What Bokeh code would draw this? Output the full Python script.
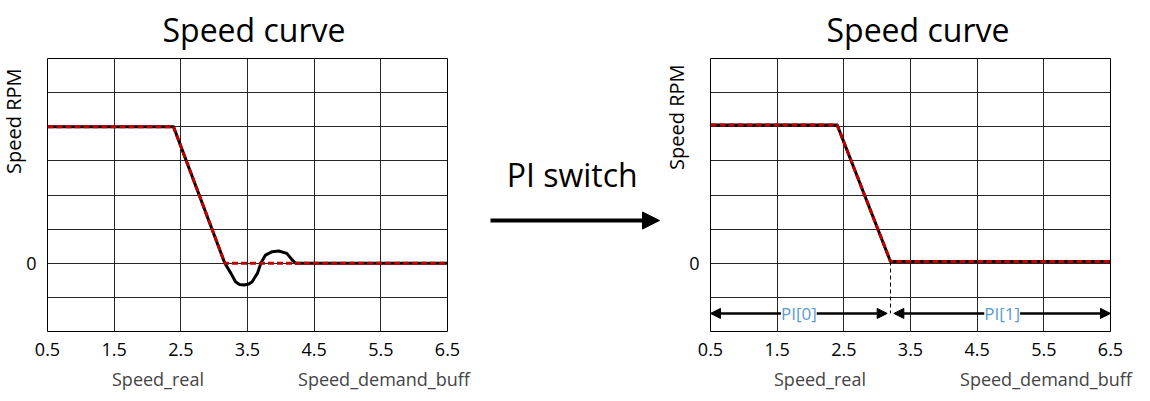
from bokeh.plotting import figure
from bokeh.layouts import row, column
from bokeh.models import (Range1d, FixedTicker, Label, Arrow, NormalHead, Legend,
                          LegendItem, Title)
from bokeh.embed import file_html
from bokeh.resources import INLINE

# ---------------- data ----------------
x_ticks = [0.5, 1.5, 2.5, 3.5, 4.5, 5.5, 6.5]
y_grid_ticks = [-2, -1, 0, 1, 2, 3, 4, 5, 6]
y_label_ticks = [0]

left_real_x = [0.5, 2.39, 3.16, 3.25, 3.32, 3.38, 3.45, 3.52, 3.57, 3.65, 3.70,
               3.77, 3.87, 3.97, 4.09, 4.17, 4.22, 6.5]
left_real_y = [4.0, 4.0, 0.0, -0.29, -0.54, -0.62, -0.64, -0.61, -0.54, -0.29, 0.0,
               0.24, 0.34, 0.36, 0.29, 0.10, 0.0, 0.0]
left_demand_x = [0.5, 2.39, 3.16, 6.5]
left_demand_y = [4.0, 4.0, 0.0, 0.0]

right_real_x = [0.5, 2.40, 3.20, 6.5]
right_real_y = [4.05, 4.05, 0.05, 0.05]
right_demand_x = [0.5, 2.40, 3.20, 6.5]
right_demand_y = [4.05, 4.05, 0.05, 0.05]

pi_level = -1.47
pi_labels = ["PI[0]", "PI[1]"]

title_text = "Speed curve"
ylabel_text = "Speed RPM"
series_names = ["Speed_real", "Speed_demand_buff"]
middle_text = "PI switch"

FONT = "Open Sans"
RED = "#C00000"
TOP, FRAME_H, BOTTOM = 58, 273, 30


def make_chart(real_x, real_y, dem_x, dem_y, border_left, border_right,
               title_offset, ylabel_offset):
    p = figure(frame_width=400, frame_height=FRAME_H,
               min_border_left=border_left, min_border_right=border_right,
               min_border_top=TOP, min_border_bottom=BOTTOM,
               x_range=Range1d(0.5, 6.5), y_range=Range1d(-2, 6),
               output_backend="svg", toolbar_location=None, title=None)
    p.outline_line_color = "black"
    p.outline_line_width = 1
    p.background_fill_color = "white"
    p.border_fill_color = "white"

    p.title = Title(text=title_text, align="left", offset=title_offset, standoff=12,
                    vertical_align="top",
                    text_font=FONT, text_font_size="32px",
                    text_font_style="normal", text_color="black")

    p.xaxis.ticker = FixedTicker(ticks=x_ticks)
    p.yaxis.ticker = FixedTicker(ticks=y_label_ticks)
    p.xgrid.ticker = FixedTicker(ticks=x_ticks)
    p.ygrid.ticker = FixedTicker(ticks=y_grid_ticks)
    for g in (p.xgrid, p.ygrid):
        g.grid_line_color = "#262626"
        g.grid_line_width = 1
        g.grid_line_alpha = 1
    for ax in (p.xaxis, p.yaxis):
        ax.axis_line_color = None
        ax.major_tick_line_color = None
        ax.minor_tick_line_color = None
        ax.major_tick_out = 0
        ax.major_tick_in = 0
        ax.major_label_text_font = FONT
        ax.major_label_text_font_size = "18px"
        ax.major_label_text_color = "black"
    p.xaxis.major_label_standoff = 11
    p.yaxis.major_label_standoff = 11

    # y-axis title near the top of the left side
    p.add_layout(Title(text=ylabel_text, align="right", offset=ylabel_offset,
                       standoff=-6, text_font=FONT, text_font_size="20px",
                       text_font_style="normal", text_color="black"), "left")

    p.line(real_x, real_y, line_color="black", line_width=3, line_join="round")
    p.line(dem_x, dem_y, line_color=RED, line_width=3, line_dash="6 3")
    return p


left = make_chart(left_real_x, left_real_y, left_demand_x, left_demand_y,
                  47, 23, 115, 10)
right = make_chart(right_real_x, right_real_y, right_demand_x, right_demand_y,
                   50, 40, 116, 6)

# PI regions on the right chart
switch_x = right_demand_x[2]
switch_y = right_demand_y[2]
gap = 0.05
right.segment(x0=[switch_x], y0=[switch_y], x1=[switch_x], y1=[pi_level],
              line_color="black", line_width=1, line_dash="4 3")
segments = [(x_ticks[0], switch_x - gap), (switch_x + gap, x_ticks[-1])]
for (xs, xe), lab in zip(segments, pi_labels):
    right.add_layout(Arrow(x_start=xs, y_start=pi_level, x_end=xe, y_end=pi_level,
                           line_width=2.5, line_color="black",
                           start=NormalHead(size=10, fill_color="black", line_color="black"),
                           end=NormalHead(size=10, fill_color="black", line_color="black")))
    right.add_layout(Label(x=(xs + xe) / 2, y=pi_level, text=lab, text_font=FONT,
                           text_font_size="17px", text_align="center",
                           text_baseline="middle", text_color="#5B9BD5",
                           background_fill_color="white"))

# Middle panel: "PI switch" with arrow (pixel-like coordinates, y downward)
mid = figure(frame_width=190, frame_height=FRAME_H,
             min_border_left=0, min_border_right=0,
             min_border_top=TOP, min_border_bottom=BOTTOM,
             x_range=Range1d(470, 660), y_range=Range1d(TOP + FRAME_H, TOP),
             x_axis_type=None, y_axis_type=None, output_backend="svg",
             toolbar_location=None, title=None)
mid.outline_line_color = None
mid.grid.visible = False
mid.add_layout(Label(x=571.7, y=174, text=middle_text, text_font=FONT,
                     text_font_size="32px", text_align="center",
                     text_baseline="alphabetic", text_color="black"))
mid.add_layout(Arrow(x_start=490, y_start=220, x_end=659, y_end=220,
                     line_width=4, line_color="black",
                     end=NormalHead(size=17, fill_color="black", line_color="black")))

# Legend strip below both charts
leg = figure(frame_width=1150, frame_height=30, min_border_left=0, min_border_right=0,
             min_border_top=0, min_border_bottom=0,
             x_range=Range1d(0, 1150), y_range=Range1d(0, 30),
             x_axis_type=None, y_axis_type=None, output_backend="svg",
             toolbar_location=None, title=None)
leg.outline_line_color = None
leg.grid.visible = False
for glyph_x in (53, 715):
    r_real = leg.line([], [], line_color="black", line_width=3)
    r_dem = leg.line([], [], line_color=RED, line_width=3, line_dash="6 3")
    leg.add_layout(Legend(items=[LegendItem(label=series_names[0], renderers=[r_real]),
                                 LegendItem(label=series_names[1], renderers=[r_dem])],
                          orientation="horizontal", location=(glyph_x, 0),
                          padding=0, margin=0, spacing=35, glyph_width=54,
                          glyph_height=24, label_height=24, label_standoff=5,
                          label_text_font=FONT, label_text_font_size="18px",
                          border_line_color=None, background_fill_alpha=0))

layout = column(row(left, mid, right), leg)
open("out.html", "w").write(file_html(layout, INLINE))
